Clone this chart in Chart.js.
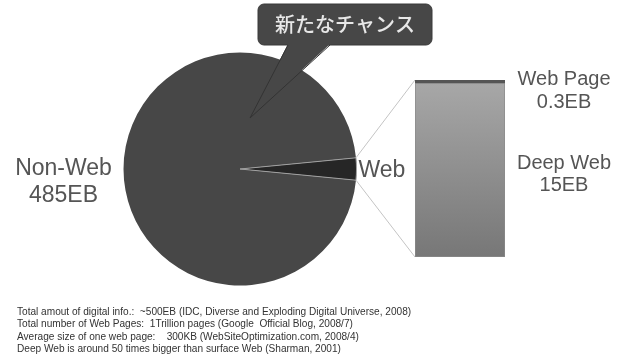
<!DOCTYPE html>
<html>
<head>
<meta charset="utf-8">
<script src="https://cdn.jsdelivr.net/npm/chart.js@4.4.1/dist/chart.umd.min.js"></script>
<style>
  html, body { margin: 0; padding: 0; background: #fff; }
  #wrap { position: relative; width: 627px; height: 361px; overflow: hidden; }
  #wrap canvas { position: absolute; left: 0; top: 0; }
  #notes {
    position: absolute; left: 17px; top: 306px;
    font: 10.1px "Liberation Sans", Arial, sans-serif; line-height: 12.4px; color: #333;
    white-space: pre;
  }
</style>
</head>
<body>
<div id="wrap">
  <canvas id="pieChart" width="627" height="361"></canvas>
  <canvas id="barChart" width="627" height="361"></canvas>
  <div id="notes"></div>
</div>
<script>
// total digital info split (EB)
const pieLabels = ["Non-Web", "Web"];
const pieValues = [485, 15.3];
const pieText = ["485EB", ""];

// breakdown of the web part (EB)
const webParts = ["Deep Web", "Web Page"];
const webValues = [15, 0.3];
const webText = ["15EB", "0.3EB"];

const calloutText = "新たなチャンス";

const notes = [
  "Total amout of digital info.:  ~500EB (IDC, Diverse and Exploding Digital Universe, 2008)",
  "Total number of Web Pages:  1Trillion pages (Google  Official Blog, 2008/7)",
  "Average size of one web page:    300KB (WebSiteOptimization.com, 2008/4)",
  "Deep Web is around 50 times bigger than surface Web (Sharman, 2001)"
];
document.getElementById("notes").textContent = notes.join("\n");

const labelFont = '"Liberation Sans", Arial, sans-serif';
const total = pieValues.reduce((a, b) => a + b, 0);
const webAngle = pieValues[1] / total * 360;
// Web slice points straight right
const pieRotation = 90 - (360 - webAngle / 2);

const pieDeco = {
  id: "pieDeco",
  afterDraw(chart) {
    const c = chart.ctx;
    const meta = chart.getDatasetMeta(0);
    const arc = meta.data[0];
    const cx = arc.x, cy = arc.y, r = arc.outerRadius;

    // callout box
    c.save();
    const bx = 258, by = 4, bw = 174, bh = 41;
    c.fillStyle = "#474747";
    c.strokeStyle = "#3a3a3a";
    c.lineWidth = 1;
    c.beginPath();
    c.roundRect(bx, by, bw, bh, 6);
    c.fill();
    c.stroke();
    c.beginPath();
    c.moveTo(288, by + bh - 1);
    c.lineTo(cx + 10, cy - 51);
    c.lineTo(330, by + bh - 1);
    c.closePath();
    c.fill();
    c.beginPath();
    c.moveTo(288, by + bh);
    c.lineTo(cx + 10, cy - 51);
    c.lineTo(330, by + bh);
    c.strokeStyle = "#333";
    c.stroke();
    c.fillStyle = "#e8e8e8";
    c.font = '500 20px "Noto Sans CJK JP", sans-serif';
    c.textAlign = "center";
    c.textBaseline = "middle";
    c.fillText(calloutText, bx + bw / 2, by + bh / 2);

    // slice labels
    c.fillStyle = "#555";
    c.font = "23px " + labelFont;
    c.textBaseline = "alphabetic";
    c.fillText(pieLabels[0], cx - r - 60, cy + 6);
    c.fillText(pieText[0], cx - r - 60, cy + 33);
    c.textAlign = "left";
    c.fillText(pieLabels[1], cx + r + 2, cy + 8);
    c.restore();
  }
};

const pieChart = new Chart(document.getElementById("pieChart"), {
  type: "pie",
  data: {
    labels: pieLabels,
    datasets: [{
      data: pieValues,
      backgroundColor: ["#474747", "#262626"],
      borderColor: ["#474747", "#a0a0a0"],
      borderWidth: [0, 1]
    }]
  },
  options: {
    responsive: false,
    animation: false,
    rotation: pieRotation,
    layout: { padding: { left: 123, top: 52, right: 270, bottom: 75 } },
    plugins: { legend: { display: false }, tooltip: { enabled: false } }
  },
  plugins: [pieDeco]
});

const barDeco = {
  id: "barDeco",
  beforeDatasetsDraw(chart) {
    // lines from the web slice to the breakdown bar
    const arc = pieChart.getDatasetMeta(0).data[1];
    const bar = chart.getDatasetMeta(0).data[0];
    const top = chart.getDatasetMeta(1).data[0];
    const left = bar.x - bar.width / 2;
    const c = chart.ctx;
    c.save();
    c.strokeStyle = "#c4c4c4";
    c.lineWidth = 1;
    c.beginPath();
    c.moveTo(arc.x + arc.outerRadius * Math.cos(arc.startAngle), arc.y + arc.outerRadius * Math.sin(arc.startAngle));
    c.lineTo(left, top.y);
    c.moveTo(arc.x + arc.outerRadius * Math.cos(arc.endAngle), arc.y + arc.outerRadius * Math.sin(arc.endAngle));
    c.lineTo(left, bar.base);
    c.stroke();
    c.restore();
  },
  afterDraw(chart) {
    const bar = chart.getDatasetMeta(0).data[0];
    const top = chart.getDatasetMeta(1).data[0];
    const right = bar.x + bar.width / 2;
    const lx = right + 59;
    const c = chart.ctx;
    c.save();
    c.fillStyle = "#555";
    c.font = "20px " + labelFont;
    c.textAlign = "center";
    c.fillText(webParts[1], lx, top.y + 5);
    c.fillText(webText[1], lx, top.y + 28);
    c.fillText(webParts[0], lx, bar.y + 86);
    c.fillText(webText[0], lx, bar.y + 108);
    c.restore();
  }
};

function barGradient(ctx) {
  const area = ctx.chart.chartArea;
  if (!area) return "#909090";
  const g = ctx.chart.ctx.createLinearGradient(0, area.top, 0, area.bottom);
  g.addColorStop(0, "#a8a8a8");
  g.addColorStop(1, "#777777");
  return g;
}

new Chart(document.getElementById("barChart"), {
  type: "bar",
  data: {
    labels: ["Web"],
    datasets: [
      { label: webParts[0], data: [webValues[0]], backgroundColor: barGradient,
        borderColor: "#8a8a8a", borderWidth: { left: 1, right: 1, bottom: 1, top: 0 }, borderSkipped: false },
      { label: webParts[1], data: [webValues[1]], backgroundColor: "#555555", borderWidth: 0 }
    ]
  },
  options: {
    responsive: false,
    animation: false,
    barPercentage: 1,
    categoryPercentage: 1,
    layout: { padding: { left: 415, top: 80, right: 122, bottom: 104 } },
    scales: {
      x: { display: false, stacked: true },
      y: { display: false, stacked: true, min: 0, max: webValues[0] + webValues[1] }
    },
    plugins: { legend: { display: false }, tooltip: { enabled: false } }
  },
  plugins: [barDeco]
});
</script>
</body>
</html>
